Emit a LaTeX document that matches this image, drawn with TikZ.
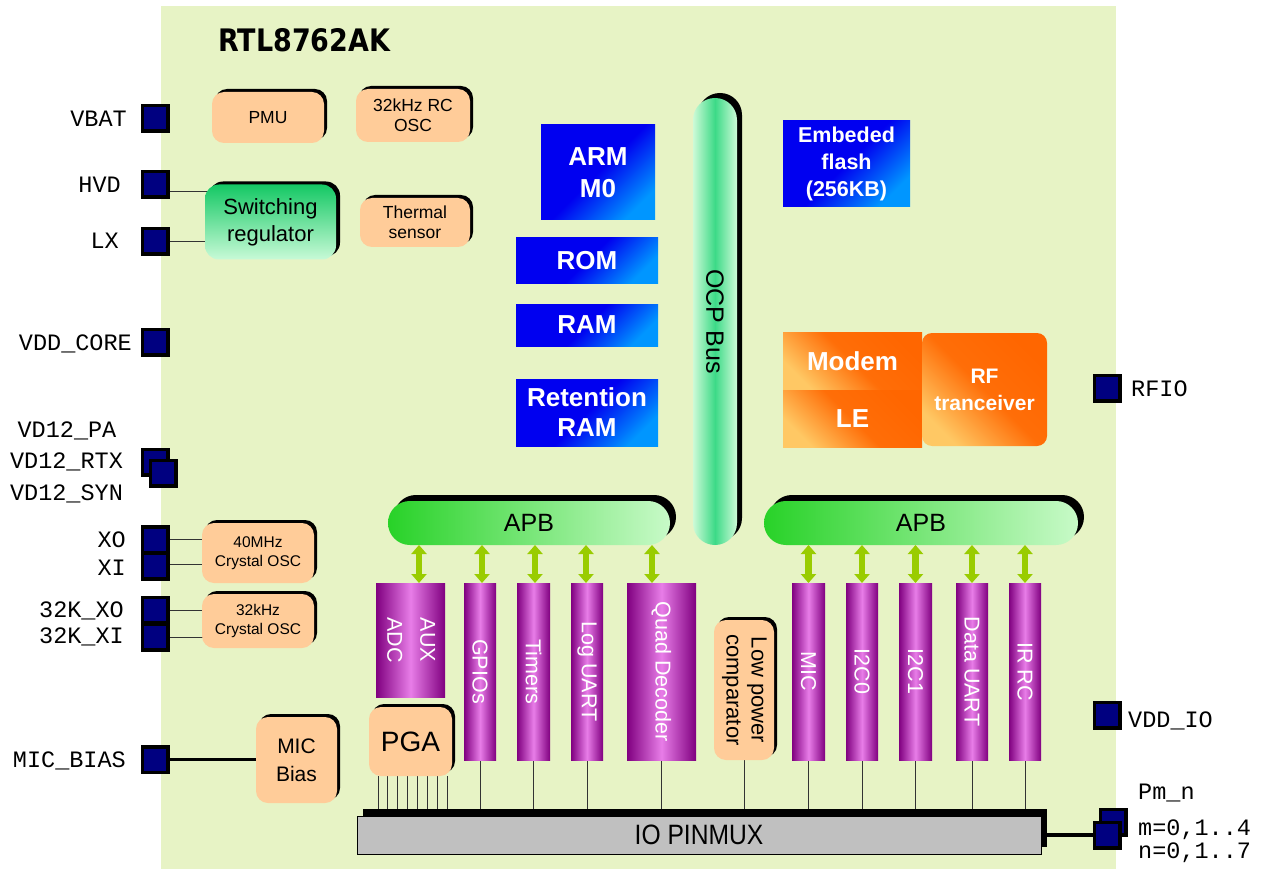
\documentclass[tikz,border=0pt]{standalone}
\usepackage{fontspec}
\setmainfont{Liberation Sans}
\newfontfamily\monof{Liberation Mono}
\newfontfamily\titlef{DejaVu Sans}
\usepackage{graphicx}
\usetikzlibrary{shadows,arrows.meta}
\newcommand\FS[2]{\fontsize{#1}{#2}\selectfont}
\definecolor{bgg}{RGB}{231,243,197}
\definecolor{peach}{RGB}{255,204,153}
\definecolor{navy}{RGB}{0,0,128}
\definecolor{blueA}{RGB}{0,0,240}
\definecolor{blueB}{RGB}{0,150,255}
\definecolor{purD}{RGB}{128,0,128}
\definecolor{purL}{RGB}{232,125,232}
\definecolor{orD}{RGB}{255,102,0}
\definecolor{orL}{RGB}{255,200,100}
\definecolor{grnD}{RGB}{20,200,100}
\definecolor{grnL}{RGB}{200,250,215}
\definecolor{ocpL}{RGB}{205,250,215}
\definecolor{ocpD}{RGB}{60,218,135}
\definecolor{apbD}{RGB}{40,210,40}
\definecolor{apbL}{RGB}{200,250,200}
\definecolor{arrg}{RGB}{153,204,0}
\definecolor{pmx}{RGB}{192,192,192}
\pgfdeclarelayer{back}
\pgfdeclarelayer{conn}
\pgfsetlayers{back,conn,main}
\tikzset{
 bx/.style={inner sep=0pt, outer sep=0pt, align=center},
 peachbox/.style={bx, fill=peach, rounded corners=12pt, general shadow={fill=black, shadow xshift=3pt, shadow yshift=3pt}, font=\FS{17.5}{20}},
 bluebox/.style={bx, top color=blueA, bottom color=blueB, middle color=blueA, shading angle=45, text=white, font=\bfseries\FS{26}{32}},
 orbox/.style={bx, top color=orD, bottom color=orL, middle color=orD!92!orL, shading angle=-45, text=white, font=\bfseries\FS{26}{30}},
 purbox/.style={bx, left color=purD, right color=purD, middle color=purL, text=white, font=\FS{21.5}{33}, minimum height=177pt, minimum width=32pt},
 pinsq/.style={fill=navy, draw=black, line width=3.5pt, minimum size=25.5pt, inner sep=0pt, outer sep=0pt},
 lab/.style={font=\monof\FS{23.5}{28}, inner sep=0pt},
 thinline/.style={draw=black!80, line width=0.9pt},
 garrow/.style={draw=arrg, line width=6.5pt, arrows={Triangle[width=15pt,length=9pt]-Triangle[width=15pt,length=9pt]}}
}
\begin{document}
\begin{tikzpicture}[x=1pt,y=-1pt]
\useasboundingbox (0,0) rectangle (1264,869);
\begin{pgfonlayer}{back}
\fill[bgg] (161,6) rectangle (1116,869);
\end{pgfonlayer}

\node[anchor=base west, inner sep=0pt, font=\titlef\bfseries\FS{31}{31}] (title) at (218,52) {\scalebox{0.87}[1]{RTL8762AK}};

% peach blocks
\node[peachbox, minimum width=112pt, minimum height=51pt] (pmu) at (268,117.5) {PMU};
\node[peachbox, minimum width=114pt, minimum height=53pt] (rcosc) at (413,115.5) {32kHz RC\\OSC};
\node[peachbox, minimum width=110pt, minimum height=49pt] (therm) at (415,222.5) {Thermal\\sensor};
\node[peachbox, minimum width=112pt, minimum height=60pt, font=\FS{15.5}{19.5}] (x40) at (258,553) {40MHz\\Crystal OSC};
\node[peachbox, minimum width=112pt, minimum height=54pt, font=\FS{15.5}{19.5}] (x32) at (258,621) {32kHz\\Crystal OSC};
\node[peachbox, minimum width=81pt, minimum height=86pt, font=\FS{21}{28}] (micb) at (296.5,760) {MIC\\Bias};
\node[peachbox, minimum width=83pt, minimum height=69pt, font=\FS{28}{30}] (pga) at (410.5,741.5) {PGA};
\node[peachbox, minimum width=60pt, minimum height=140pt, font=\FS{22}{25}] (lpc) at (744,690) {\rotatebox{-90}{\begin{tabular}{@{}c@{}}Low power\\comparator\end{tabular}}};

\node[bx, top color=grnD, bottom color=grnL, rounded corners=14pt, general shadow={fill=black, shadow xshift=4pt, shadow yshift=3pt}, minimum width=131pt, minimum height=75pt, font=\FS{22}{27}] (swreg) at (270.5,222) {Switching\\regulator};

% blue blocks
\node[bluebox, minimum width=114pt, minimum height=95pt] (arm) at (598,172.5) {ARM\\M0};
\node[bluebox, minimum width=142pt, minimum height=45pt] (rom) at (587,260.5) {ROM};
\node[bluebox, minimum width=142pt, minimum height=42pt] (ram) at (587,325) {RAM};
\node[bluebox, minimum width=142pt, minimum height=67pt, font=\bfseries\FS{26}{30}] (rram) at (587,412.5) {Retention\\RAM};
\node[bluebox, minimum width=127pt, minimum height=86pt, font=\bfseries\FS{21.5}{27}] (flash) at (846.5,164) {Embeded\\flash\\(256KB)};

% buses
\node[bx, left color=ocpL, right color=ocpL, middle color=ocpD, rounded corners=21.9pt, general shadow={fill=black, shadow xshift=5pt, shadow yshift=5pt}, minimum width=44pt, minimum height=447pt, font=\FS{25}{25}] (ocp) at (715,321.5) {\rotatebox{-90}{OCP Bus}};
\node[bx, left color=apbD, right color=apbL, rounded corners=21.9pt, general shadow={fill=black, shadow xshift=6pt, shadow yshift=6pt}, minimum width=282pt, minimum height=44pt, font=\FS{25}{25}] (apbl) at (529,523) {APB};
\node[bx, left color=apbD, right color=apbL, rounded corners=21.9pt, general shadow={fill=black, shadow xshift=6pt, shadow yshift=6pt}, minimum width=314pt, minimum height=44pt, font=\FS{25}{25}] (apbr) at (921,523) {APB};

% RF
\node[orbox, minimum width=139pt, minimum height=58pt] (modem) at (852.5,361) {Modem};
\node[orbox, minimum width=139pt, minimum height=57pt] (le) at (852.5,418.5) {LE};
\node[orbox, rounded corners=10pt, minimum width=125pt, minimum height=113pt, font=\bfseries\FS{21}{27}] (rf) at (984.5,389.5) {RF\\tranceiver};

% peripherals
\node[purbox, minimum width=69pt, minimum height=114pt] (aux) at (410.5,640) {\rotatebox{-90}{\begin{tabular}{@{}c@{}}AUX\\ADC\end{tabular}}};
\node[purbox] (gpio) at (480,671.5) {\rotatebox{-90}{GPIOs}};
\node[purbox, minimum width=33pt] (timers) at (533.5,671.5) {\rotatebox{-90}{Timers}};
\node[purbox] (loguart) at (587,671.5) {\rotatebox{-90}{Log UART}};
\node[purbox, minimum width=69pt] (quad) at (661.5,671.5) {\rotatebox{-90}{Quad Decoder}};
\node[purbox, minimum width=33pt] (mic) at (808.5,671.5) {\rotatebox{-90}{MIC}};
\node[purbox] (i2c0) at (862,671.5) {\rotatebox{-90}{I2C0}};
\node[purbox, minimum width=33pt] (i2c1) at (915.5,671.5) {\rotatebox{-90}{I2C1}};
\node[purbox] (duart) at (972,671.5) {\rotatebox{-90}{Data UART}};
\node[purbox] (irrc) at (1025,671.5) {\rotatebox{-90}{IR RC}};

% IO pinmux
\node[bx, fill=pmx, draw=black, line width=1pt, general shadow={fill=black, shadow xshift=6pt, shadow yshift=7pt}, minimum width=684pt, minimum height=38pt, font=\FS{28}{28}] (pinmux) at (699,835) {\scalebox{0.88}[1]{IO PINMUX}};

% pins
\node[pinsq] (pvbat) at (155,118.5) {};
\node[pinsq] (phvd) at (155,184.5) {};
\node[pinsq] (plx) at (155,241.5) {};
\node[pinsq] (pcore) at (155,342) {};
\node[pinsq] (pvda) at (155,462) {};
\node[pinsq] (pvdb) at (163,473) {};
\node[pinsq] (pxo) at (155,539.5) {};
\node[pinsq] (pxi) at (155,566) {};
\node[pinsq] (pkxo) at (155,610) {};
\node[pinsq] (pkxi) at (155,637) {};
\node[pinsq] (pmicb) at (155,759.5) {};
\node[pinsq] (prfio) at (1107,388) {};
\node[pinsq] (pvddio) at (1107,715) {};
\node[pinsq] (ppma) at (1113,822) {};
\node[pinsq] (ppmb) at (1107,835) {};

% pin labels
\node[lab, anchor=base east] (lvbat) at (127,127) {VBAT};
\node[lab, anchor=base east] (lhvd) at (121,193) {HVD};
\node[lab, anchor=base east] (llx) at (119,248) {LX};
\node[lab, anchor=base east] (lcore) at (132,350) {VDD\_CORE};
\node[lab, anchor=base] (lpa) at (67,437) {VD12\_PA};
\node[lab, anchor=base] (lrtx) at (66.5,468) {VD12\_RTX};
\node[lab, anchor=base] (lsyn) at (66.5,500) {VD12\_SYN};
\node[lab, anchor=base east] (lxo) at (126,547) {XO};
\node[lab, anchor=base east] (lxi) at (126,575) {XI};
\node[lab, anchor=base east] (lkxo) at (124,617) {32K\_XO};
\node[lab, anchor=base east] (lkxi) at (124,643) {32K\_XI};
\node[lab, anchor=base east] (lmicb) at (126,767) {MIC\_BIAS};
\node[lab, anchor=base west] (lrfio) at (1131,396) {RFIO};
\node[lab, anchor=base west] (lvddio) at (1128,727) {VDD\_IO};
\node[lab, anchor=base west] (lpmn) at (1138,799) {Pm\_n};
\node[lab, anchor=base west] (lpmm) at (1138,835) {m=0,1..4};
\node[lab, anchor=base west] (lpmnn) at (1138,858) {n=0,1..7};

% connectors
\begin{pgfonlayer}{conn}
\draw[thinline] ([yshift=-6.5pt]phvd.east) -- ([yshift=-6.5pt]phvd.east -| swreg.center);
\draw[thinline] (plx.east) -- (plx.east -| swreg.center);
\draw[thinline] (pxo.east) -- (pxo.east -| x40.center);
\draw[thinline] ([yshift=1.5pt]pxi.east) -- ([yshift=1.5pt]pxi.east -| x40.center);
\draw[thinline] (pkxo.east) -- (pkxo.east -| x32.center);
\draw[thinline] (pkxi.east) -- (pkxi.east -| x32.center);
\draw[line width=3.5pt] (pmicb.east) -- (pmicb.east -| micb.center);
\draw[line width=3.5pt] (pinmux.center) -- (pinmux.center -| ppmb.center);
\foreach \n in {gpio,timers,loguart,quad,lpc,mic,i2c0,i2c1,duart,irrc}
  \draw[thinline] (\n.south) -- (\n.south |- pinmux.north);
\foreach \dx in {-32.5,-22.6,-12.8,-2.9,6.9,16.8,26.6,36.5}
  \draw[thinline] ([xshift=\dx pt]pga.south) -- ([xshift=\dx pt]pga.south |- pinmux.north);
\end{pgfonlayer}

% APB arrows
\draw[garrow] ([xshift=8.5pt]aux.north |- apbl.south) -- ([xshift=8.5pt]aux.north);
\draw[garrow] ([xshift=2pt]gpio.north |- apbl.south) -- ([xshift=2pt]gpio.north);
\draw[garrow] ([xshift=1.5pt]timers.north |- apbl.south) -- ([xshift=1.5pt]timers.north);
\draw[garrow] ([xshift=-1pt]loguart.north |- apbl.south) -- ([xshift=-1pt]loguart.north);
\draw[garrow] ([xshift=-9.5pt]quad.north |- apbl.south) -- ([xshift=-9.5pt]quad.north);
\foreach \n in {mic,i2c0,i2c1,duart,irrc}
  \draw[garrow] (\n.north |- apbr.south) -- (\n.north);
\end{tikzpicture}
\end{document}
